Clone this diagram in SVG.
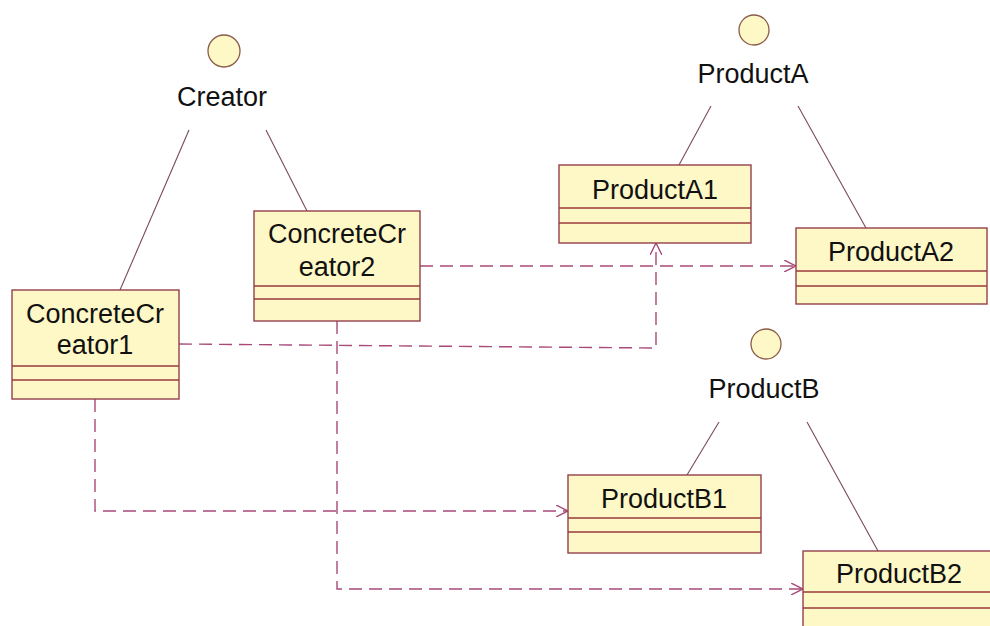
<svg xmlns="http://www.w3.org/2000/svg" width="990" height="626" viewBox="0 0 990 626">
<style>
.box{fill:#fdf8c6;stroke:#94404a;stroke-width:1.4}
.sec{stroke:#9a3b3b;stroke-width:1.4}
.iface{fill:#fdf8c6;stroke:#8a5a4a;stroke-width:1.3}
.lbl{font-family:"Liberation Sans",Arial,sans-serif;font-size:27px;fill:#111;text-anchor:middle}
.gen{stroke:#7a4a5a;stroke-width:1.1;fill:none}
.dep{stroke:#a84a78;stroke-width:1.4;fill:none;stroke-dasharray:13 7}
</style>
<defs>
<marker id="open" viewBox="0 0 12 12" refX="12" refY="6" markerWidth="12" markerHeight="12" markerUnits="userSpaceOnUse" orient="auto">
<path d="M0,0 L12,6 L0,12" fill="none" stroke="#a84a78" stroke-width="1.4"/>
</marker>
</defs>
<rect width="990" height="626" fill="#fff"/>

<g id="connectors">
<line class="gen" x1="189" y1="130" x2="120" y2="290"/>
<line class="gen" x1="266" y1="130" x2="307" y2="211"/>
<line class="gen" x1="711" y1="106" x2="679" y2="165"/>
<line class="gen" x1="798" y1="106" x2="866" y2="228"/>
<line class="gen" x1="719" y1="422" x2="687" y2="475"/>
<line class="gen" x1="807" y1="422" x2="878" y2="551"/>
<polyline class="dep" points="420,266 796,266" marker-end="url(#open)"/>
<polyline class="dep" points="179,344 656,348 656,243" marker-end="url(#open)"/>
<polyline class="dep" points="95,399 95,511 568,511" marker-end="url(#open)"/>
<polyline class="dep" points="337,321 337,589 803,589" marker-end="url(#open)"/>
</g>

<g id="Creator">
<circle class="iface" cx="224" cy="51" r="16"/>
<text class="lbl" x="222" y="106">Creator</text>
</g>

<g id="ProductA">
<circle class="iface" cx="754" cy="30" r="15"/>
<text class="lbl" x="753" y="83">ProductA</text>
</g>

<g id="ProductB">
<circle class="iface" cx="766" cy="344" r="15"/>
<text class="lbl" x="764" y="398">ProductB</text>
</g>

<g id="ConcreteCreator1">
<rect class="box" x="12" y="290" width="167" height="109"/>
<line class="sec" x1="12" y1="366" x2="179" y2="366"/>
<line class="sec" x1="12" y1="380" x2="179" y2="380"/>
<text class="lbl" x="95" y="323">ConcreteCr</text>
<text class="lbl" x="95" y="354">eator1</text>
</g>

<g id="ConcreteCreator2">
<rect class="box" x="254" y="211" width="166" height="110"/>
<line class="sec" x1="254" y1="286" x2="420" y2="286"/>
<line class="sec" x1="254" y1="299" x2="420" y2="299"/>
<text class="lbl" x="337" y="243">ConcreteCr</text>
<text class="lbl" x="337" y="276">eator2</text>
</g>

<g id="ProductA1">
<rect class="box" x="559" y="165" width="192" height="78"/>
<line class="sec" x1="559" y1="208" x2="751" y2="208"/>
<line class="sec" x1="559" y1="223" x2="751" y2="223"/>
<text class="lbl" x="655" y="199">ProductA1</text>
</g>

<g id="ProductA2">
<rect class="box" x="796" y="228" width="191" height="76"/>
<line class="sec" x1="796" y1="271" x2="987" y2="271"/>
<line class="sec" x1="796" y1="286" x2="987" y2="286"/>
<text class="lbl" x="891" y="261">ProductA2</text>
</g>

<g id="ProductB1">
<rect class="box" x="568" y="475" width="193" height="78"/>
<line class="sec" x1="568" y1="518" x2="761" y2="518"/>
<line class="sec" x1="568" y1="532" x2="761" y2="532"/>
<text class="lbl" x="664" y="508">ProductB1</text>
</g>

<g id="ProductB2">
<rect class="box" x="803" y="551" width="200" height="90"/>
<line class="sec" x1="803" y1="592" x2="1003" y2="592"/>
<line class="sec" x1="803" y1="608" x2="1003" y2="608"/>
<text class="lbl" x="899" y="583">ProductB2</text>
</g>
</svg>
